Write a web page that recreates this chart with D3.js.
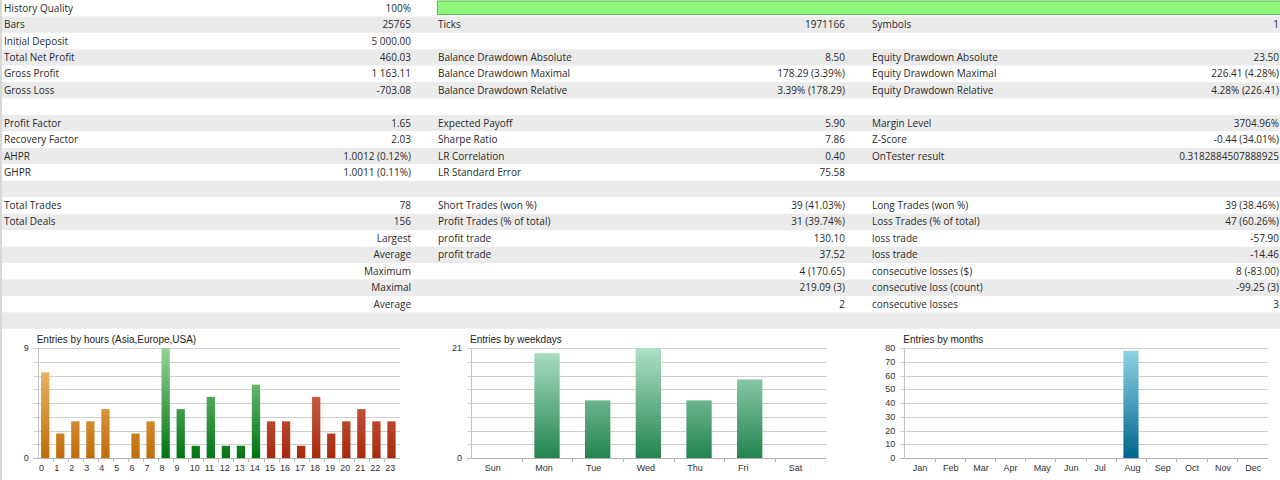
<!DOCTYPE html>
<html>
<head>
<meta charset="utf-8">
<script src="https://cdn.jsdelivr.net/npm/d3@7"></script>
<style>
body { margin: 0; background: #fff; overflow: hidden; }
</style>
</head>
<body>
<svg id="chart" width="1280" height="480"></svg>
<script>
// report table, one array per column
var col1Labels = ["History Quality","Bars","Initial Deposit","Total Net Profit","Gross Profit","Gross Loss","",
    "Profit Factor","Recovery Factor","AHPR","GHPR","","Total Trades","Total Deals","","","","","",""];
var col1Values = ["100%","25765","5 000.00","460.03","1 163.11","-703.08","",
    "1.65","2.03","1.0012 (0.12%)","1.0011 (0.11%)","","78","156","Largest","Average","Maximum","Maximal","Average",""];
var col2Labels = ["","Ticks","","Balance Drawdown Absolute","Balance Drawdown Maximal","Balance Drawdown Relative","",
    "Expected Payoff","Sharpe Ratio","LR Correlation","LR Standard Error","","Short Trades (won %)","Profit Trades (% of total)",
    "profit trade","profit trade","","","",""];
var col2Values = ["","1971166","","8.50","178.29 (3.39%)","3.39% (178.29)","",
    "5.90","7.86","0.40","75.58","","39 (41.03%)","31 (39.74%)","130.10","37.52","4 (170.65)","219.09 (3)","2",""];
var col3Labels = ["","Symbols","","Equity Drawdown Absolute","Equity Drawdown Maximal","Equity Drawdown Relative","",
    "Margin Level","Z-Score","OnTester result","","","Long Trades (won %)","Loss Trades (% of total)",
    "loss trade","loss trade","consecutive losses ($)","consecutive loss (count)","consecutive losses",""];
var col3Values = ["","1","","23.50","226.41 (4.28%)","4.28% (226.41)","",
    "3704.96%","-0.44 (34.01%)","0.3182884507888925","","","39 (38.46%)","47 (60.26%)",
    "-57.90","-14.46","8 (-83.00)","-99.25 (3)","3",""];
var historyQuality = 100;

// entries histograms
var hours = d3.range(0, 24).map(String);
var hourEntries = [7,2,3,3,4,0,2,3,9,4,1,5,1,1,6,3,3,1,5,2,3,4,3,3];
var weekdays = ["Sun","Mon","Tue","Wed","Thu","Fri","Sat"];
var weekdayEntries = [0,20,11,21,11,15,0];
var months = ["Jan","Feb","Mar","Apr","May","Jun","Jul","Aug","Sep","Oct","Nov","Dec"];
var monthEntries = [0,0,0,0,0,0,0,78,0,0,0,0];

var svg = d3.select("#chart");
var rowH = 16.44;
var colW = 434;
var tableFont = "'Open Sans', 'Noto Sans', sans-serif";

// striped rows
svg.selectAll(".row")
    .data(col1Labels)
    .enter()
    .append("rect")
    .attr("class", "row")
    .attr("x", 0)
    .attr("y", function(d, i){ return i * rowH; })
    .attr("width", 1280)
    .attr("height", rowH)
    .attr("fill", function(d, i){ return i % 2 ? "#ebebeb" : "#ffffff"; });

// history quality bar
var hq = d3.scaleLinear().domain([0, 100]).range([437, 1280]);
svg.append("rect")
    .attr("x", hq(0) + 0.5).attr("y", 1)
    .attr("width", hq(historyQuality) - hq(0)).attr("height", 13.5)
    .attr("fill", "#8ff57c").attr("stroke", "#5fb84f").attr("stroke-width", 1);

var columns = [[col1Labels, col1Values], [col2Labels, col2Values], [col3Labels, col3Values]];
columns.forEach(function(col, c){
    var g = svg.append("g").attr("transform", "translate(" + (c * colW) + ",0)");
    g.selectAll(".lab")
        .data(col[0])
        .enter()
        .append("text")
        .attr("x", 4)
        .attr("y", function(d, i){ return i * rowH + rowH / 2; })
        .attr("dy", "0.35em")
        .style("font-family", tableFont).style("font-size", "10px")
        .attr("fill", "#2a2a2a")
        .text(function(d){ return d; });
    g.selectAll(".val")
        .data(col[1])
        .enter()
        .append("text")
        .attr("x", colW - 23)
        .attr("y", function(d, i){ return i * rowH + rowH / 2; })
        .attr("dy", "0.35em")
        .attr("text-anchor", "end")
        .style("font-family", tableFont).style("font-size", "10px")
        .attr("fill", "#2a2a2a")
        .text(function(d){ return d; });
});

// left window edge
svg.append("rect").attr("x", 0).attr("y", 0).attr("width", 2).attr("height", 480).attr("fill", "#d8d8d8");

var defs = svg.append("defs");
var plotTop = 348, plotBottom = 458;

function gradient(id, top, bottom){
    var lg = defs.append("linearGradient")
        .attr("id", id)
        .attr("gradientUnits", "userSpaceOnUse")
        .attr("x1", 0).attr("x2", 0)
        .attr("y1", plotTop).attr("y2", plotBottom);
    lg.append("stop").attr("offset", "0%").attr("stop-color", top);
    lg.append("stop").attr("offset", "100%").attr("stop-color", bottom);
}
gradient("gOrange", "#f7c67c", "#bf6c08");
gradient("gGreen", "#95d595", "#007414");
gradient("gRed", "#e2806c", "#a62a0c");
gradient("gTeal", "#aee0c8", "#23844f");
gradient("gBlue", "#93d3e8", "#00668a");

function drawHist(opt){
    var g = svg.append("g");
    var x = d3.scaleBand().domain(opt.cats).range([opt.x0, opt.x1]).paddingInner(opt.pad).paddingOuter(opt.pad / 2);
    var xb = d3.scaleBand().domain(opt.cats).range([opt.x0, opt.x1]);
    var y = d3.scaleLinear().domain([0, opt.max]).range([plotBottom, plotTop]);

    // grid, 8 divisions
    var grid = d3.range(0, 9).map(function(i){ return opt.max * i / 8; });
    g.selectAll(".grid")
        .data(grid)
        .enter()
        .append("line")
        .attr("x1", opt.x0 - 4).attr("x2", opt.x1 + 1)
        .attr("y1", function(d){ return Math.round(y(d)) + 0.5; })
        .attr("y2", function(d){ return Math.round(y(d)) + 0.5; })
        .attr("stroke", function(d){ return d === 0 ? "#b0b0b0" : "#cfcfcf"; });

    g.append("line")
        .attr("x1", Math.round(opt.x0) + 0.5).attr("x2", Math.round(opt.x0) + 0.5)
        .attr("y1", plotTop).attr("y2", plotBottom + 1)
        .attr("stroke", "#c4c4c4");

    // x ticks at band boundaries
    g.selectAll(".xt")
        .data(opt.cats.slice(1))
        .enter()
        .append("line")
        .attr("x1", function(d){ return Math.round(xb(d)) + 0.5; })
        .attr("x2", function(d){ return Math.round(xb(d)) + 0.5; })
        .attr("y1", plotBottom).attr("y2", plotBottom + 4)
        .attr("stroke", "#b8b8b8");

    g.selectAll(".bar")
        .data(opt.values)
        .enter()
        .append("rect")
        .attr("x", function(d, i){ return x(opt.cats[i]); })
        .attr("width", x.bandwidth())
        .attr("y", function(d){ return y(d); })
        .attr("height", function(d){ return plotBottom - y(d); })
        .attr("fill", function(d, i){ return "url(#" + opt.fill(i) + ")"; });

    g.selectAll(".xl")
        .data(opt.cats)
        .enter()
        .append("text")
        .attr("x", function(d){ return x(d) + opt.labelShift; })
        .attr("y", 471)
        .style("font-family", "'Liberation Sans', Arial, sans-serif").style("font-size", "9px")
        .attr("fill", "#333")
        .text(function(d){ return d; });

    g.selectAll(".yl")
        .data(opt.yLabels)
        .enter()
        .append("text")
        .attr("x", opt.x0 - 9)
        .attr("y", function(d){ return y(d); })
        .attr("dy", "0.35em")
        .attr("text-anchor", "end")
        .style("font-family", "'Liberation Sans', Arial, sans-serif").style("font-size", "9px")
        .attr("fill", "#333")
        .text(function(d){ return d; });

    g.append("text")
        .attr("x", opt.x0 - 1)
        .attr("y", 343)
        .style("font-family", "'Liberation Sans', Arial, sans-serif").style("font-size", "10px")
        .attr("fill", "#222")
        .text(opt.title);
}

drawHist({
    title: "Entries by hours (Asia,Europe,USA)",
    cats: hours, values: hourEntries, max: 9, yLabels: [0, 9],
    x0: 37.7, x1: 399, pad: 0.45, labelShift: -2,
    fill: function(i){ return i < 8 ? "gOrange" : (i < 15 ? "gGreen" : "gRed"); }
});
drawHist({
    title: "Entries by weekdays",
    cats: weekdays, values: weekdayEntries, max: 21, yLabels: [0, 21],
    x0: 471, x1: 825.7, pad: 0.5, labelShift: 1,
    fill: function(){ return "gTeal"; }
});
drawHist({
    title: "Entries by months",
    cats: months, values: monthEntries, max: 80, yLabels: d3.range(0, 90, 10),
    x0: 904.3, x1: 1267, pad: 0.5, labelShift: 1,
    fill: function(){ return "gBlue"; }
});
</script>
</body>
</html>
